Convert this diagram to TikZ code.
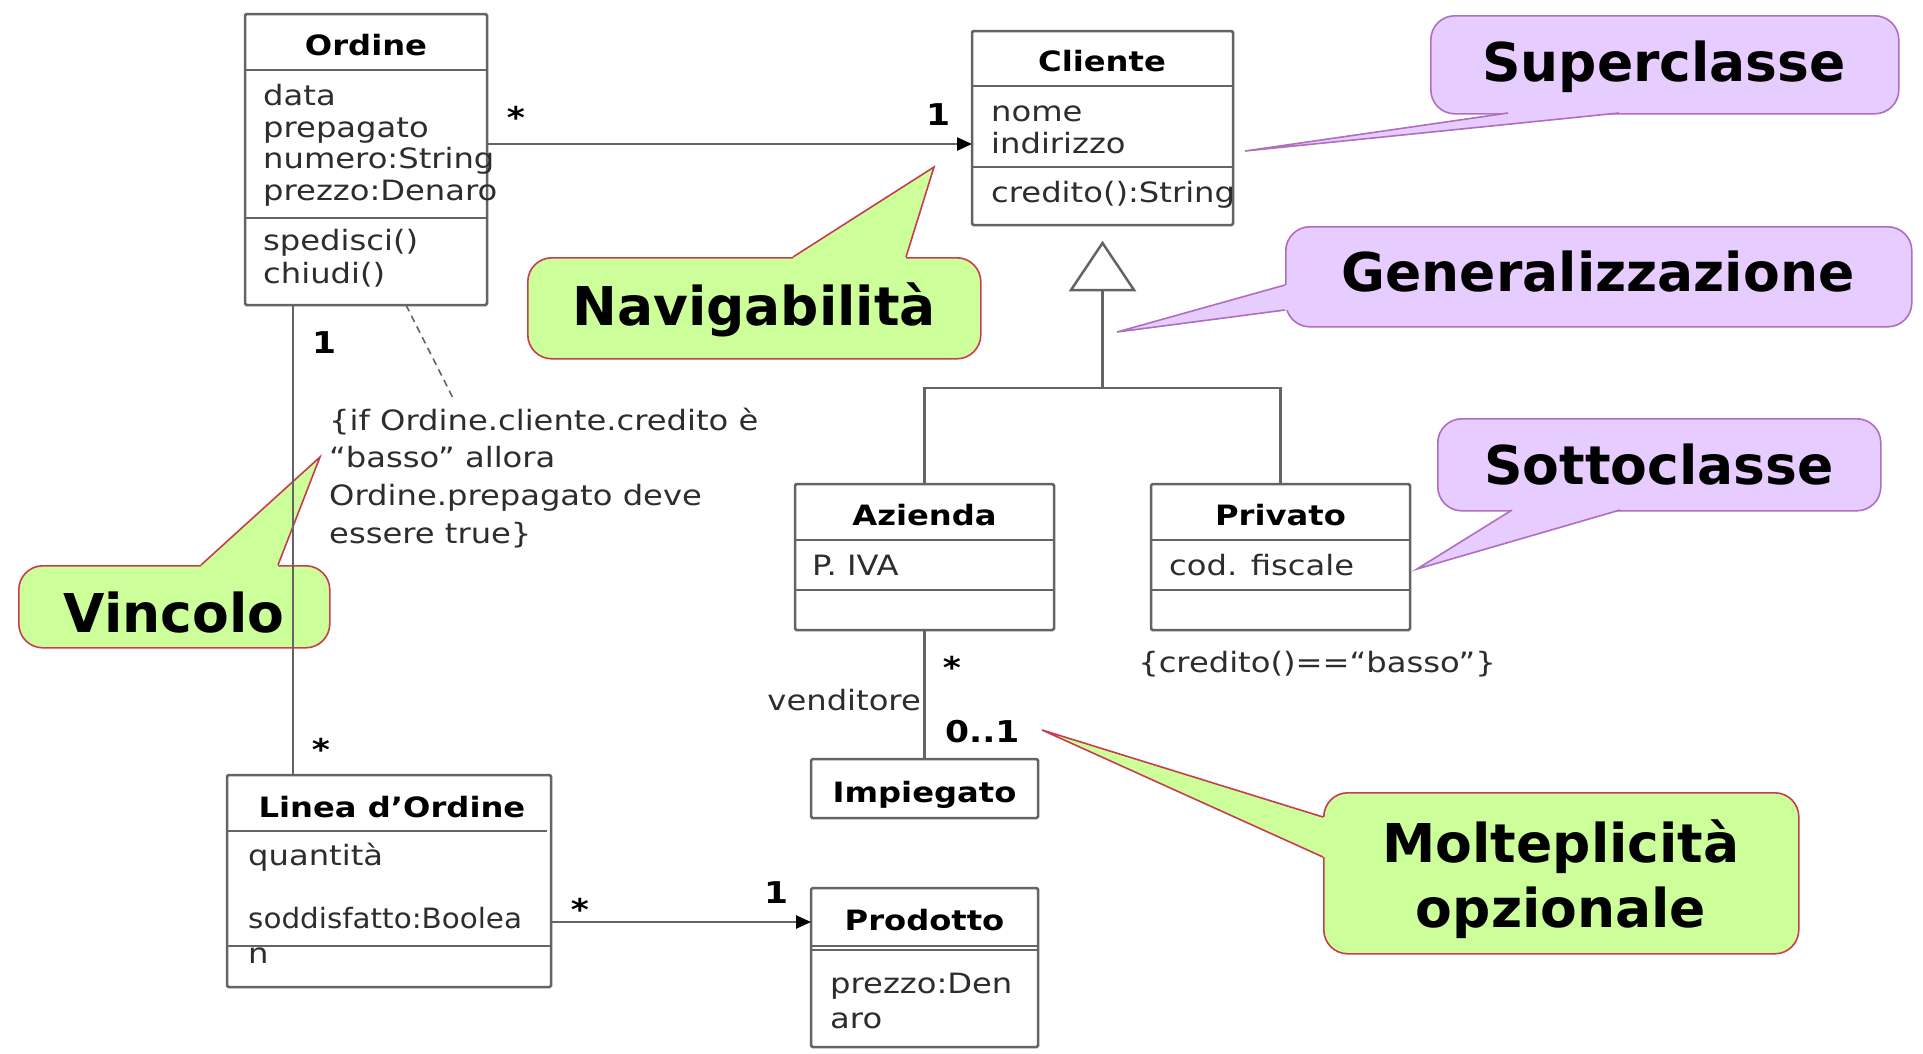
\documentclass[tikz,border=0pt]{standalone}
\usepackage{fontspec}
\usetikzlibrary{arrows.meta,calc}

% fonts
\newfontfamily\umlf{DejaVu Sans}[FakeStretch=1.15]
\newfontfamily\umlnarrowf{DejaVu Sans}[FakeStretch=1.05]
\newfontfamily\callf{DejaVu Sans}
\newcommand\attrfont{\umlf\fontsize{28}{32}\selectfont}
\newcommand\attrnarrowfont{\umlnarrowf\fontsize{28}{32}\selectfont}
\newcommand\titlefont{\umlf\bfseries\fontsize{28}{32}\selectfont}
\newcommand\multfont{\umlf\bfseries\fontsize{30}{34}\selectfont}
\newcommand\callfont{\callf\bfseries\fontsize{53.5}{65}\selectfont}

% colours
\definecolor{linegray}{RGB}{100,100,100}
\definecolor{textblack}{RGB}{45,45,45}
\definecolor{callgreen}{RGB}{204,255,153}
\definecolor{greenedge}{RGB}{200,60,80}
\definecolor{callpurple}{RGB}{230,204,255}
\definecolor{purpleedge}{RGB}{175,110,190}

\tikzset{
  umlbox/.style={draw=linegray, line width=2.5pt, fill=white, anchor=north west,
    inner sep=0pt, outer sep=0pt, rounded corners=1.5pt},
  rule/.style={draw=linegray, line width=2.5pt},
  assoc/.style={rule, -{Triangle[length=15pt,width=13pt,color=black]}},
  note/.style={draw=linegray, line width=1.6pt, dash pattern=on 7pt off 5pt},
  attr/.style={anchor=base west, inner sep=0pt, font=\attrfont, text=textblack},
  ctitle/.style={anchor=base, inner sep=0pt, font=\titlefont, text=black},
  mult/.style={anchor=base, inner sep=0pt, font=\multfont, text=black},
  callbody/.style={anchor=north west, rounded corners=24pt, line width=1.6pt, inner sep=0pt},
  greenbody/.style={callbody, fill=callgreen, draw=greenedge},
  purplebody/.style={callbody, fill=callpurple, draw=purpleedge},
  greentail/.style={draw=greenedge, line width=1.6pt},
  purpletail/.style={draw=purpleedge, line width=1.6pt},
  calltext/.style={anchor=base, inner sep=0pt, font=\callfont, text=black},
}

\begin{document}
\begin{tikzpicture}[x=1pt,y=-1pt]
\useasboundingbox[fill=white] (0,0) rectangle (1923,1053);

% ---------------- callouts ----------------
% Superclasse
\node[purplebody, minimum width=468pt, minimum height=98pt] (supbody) at (1430,15) {};
\coordinate (suptip) at (1245,151);
\coordinate (supb1) at (1508,113);
\coordinate (supb2) at (1619,113);
\fill[callpurple] (suptip) -- (supb1) -- ($(supb1)+(0,-4)$) -- ($(supb2)+(0,-4)$) -- (supb2) -- cycle;
\draw[purpletail] (supb1) -- (suptip) -- (supb2);
\node[calltext] (suptext) at (1664,81) {Superclasse};

% Generalizzazione
\node[purplebody, minimum width=626pt, minimum height=100pt] (genbody) at (1285,226) {};
\coordinate (gentip) at (1117,332);
\coordinate (genb1) at (1285,285);
\coordinate (genb2) at (1285,310);
\fill[callpurple] (gentip) -- (genb1) -- ($(genb1)+(4,0)$) -- ($(genb2)+(4,0)$) -- (genb2) -- cycle;
\draw[purpletail] (genb1) -- (gentip) -- (genb2);
\node[calltext] (gentext) at (1598,291) {Generalizzazione};

% Sottoclasse
\node[purplebody, minimum width=443pt, minimum height=92pt] (sotbody) at (1437,418) {};
\coordinate (sottip) at (1417,569);
\coordinate (sotb1) at (1512,510);
\coordinate (sotb2) at (1620,510);
\fill[callpurple] (sottip) -- (sotb1) -- ($(sotb1)+(0,-4)$) -- ($(sotb2)+(0,-4)$) -- (sotb2) -- cycle;
\draw[purpletail] (sotb1) -- (sottip) -- (sotb2);
\node[calltext] (sottext) at (1659,484) {Sottoclasse};

% Navigabilita
\node[greenbody, minimum width=453pt, minimum height=101pt] (navbody) at (527,257) {};
\coordinate (navtip) at (934,167);
\coordinate (navb1) at (793,257);
\coordinate (navb2) at (906,257);
\fill[callgreen] (navtip) -- (navb1) -- ($(navb1)+(0,4)$) -- ($(navb2)+(0,4)$) -- (navb2) -- cycle;
\draw[greentail] (navb1) -- (navtip) -- (navb2);
\node[calltext] (navtext) at (754,325) {Navigabilità};

% Vincolo
\node[greenbody, minimum width=311pt, minimum height=82pt] (vinbody) at (18,565) {};
\coordinate (vintip) at (320,457);
\coordinate (vinb1) at (201,565);
\coordinate (vinb2) at (278,565);
\fill[callgreen] (vintip) -- (vinb1) -- ($(vinb1)+(0,4)$) -- ($(vinb2)+(0,4)$) -- (vinb2) -- cycle;
\draw[greentail] (vinb1) -- (vintip) -- (vinb2);
\node[calltext] (vintext) at (174,632) {Vincolo};

% Molteplicita opzionale
\node[greenbody, minimum width=475pt, minimum height=161pt] (molbody) at (1323,792) {};
\coordinate (moltip) at (1042,730);
\coordinate (molb1) at (1323,817);
\coordinate (molb2) at (1323,857);
\fill[callgreen] (moltip) -- (molb1) -- ($(molb1)+(4,0)$) -- ($(molb2)+(4,0)$) -- (molb2) -- cycle;
\draw[greentail] (molb1) -- (moltip) -- (molb2);
\node[calltext] (moltext1) at (1561,862) {Molteplicità};
\node[calltext] (moltext2) at (1561,927) {opzionale};

% ---------------- classes ----------------
% Ordine
\node[umlbox, minimum width=242pt, minimum height=291pt] (ordine) at (245,14) {};
\draw[rule] ([yshift=-56pt]ordine.north west) -- ([yshift=-56pt]ordine.north east);
\draw[rule] ([yshift=-204pt]ordine.north west) -- ([yshift=-204pt]ordine.north east);
\node[ctitle] (ordinet) at (366,55) {Ordine};
\node[attr] (ord1) at (263,105) {data};
\node[attr] (ord2) at (263,137) {prepagato};
\node[attr] (ord3) at (263,168) {numero:String};
\node[attr] (ord4) at (263,200) {prezzo:Denaro};
\node[attr] (ord5) at (263,250) {spedisci()};
\node[attr] (ord6) at (263,283) {chiudi()};

% Cliente
\node[umlbox, minimum width=261pt, minimum height=194pt] (cliente) at (972,31) {};
\draw[rule] ([yshift=-55pt]cliente.north west) -- ([yshift=-55pt]cliente.north east);
\draw[rule] ([yshift=-136pt]cliente.north west) -- ([yshift=-136pt]cliente.north east);
\node[ctitle] (clientet) at (1102,71) {Cliente};
\node[attr] (cli1) at (991,121) {nome};
\node[attr] (cli2) at (991,153) {indirizzo};
\node[attr] (cli3) at (991,202) {credito():String};

% Azienda
\node[umlbox, minimum width=259pt, minimum height=146pt] (azienda) at (795,484) {};
\draw[rule] ([yshift=-56pt]azienda.north west) -- ([yshift=-56pt]azienda.north east);
\draw[rule] ([yshift=-106pt]azienda.north west) -- ([yshift=-106pt]azienda.north east);
\node[ctitle] (aziendat) at (924.5,525) {Azienda};
\node[attr] (azi1) at (812,575) {P. IVA};

% Privato
\node[umlbox, minimum width=259pt, minimum height=146pt] (privato) at (1151,484) {};
\draw[rule] ([yshift=-56pt]privato.north west) -- ([yshift=-56pt]privato.north east);
\draw[rule] ([yshift=-106pt]privato.north west) -- ([yshift=-106pt]privato.north east);
\node[ctitle] (privatot) at (1280.5,525) {Privato};
\node[attr] (pri1) at (1169,575) {cod. fiscale};
\node[anchor=base, inner sep=0pt, font=\attrfont, text=textblack] (pricons) at (1317,672)
  {\{credito()==“basso”\}};

% Impiegato
\node[umlbox, minimum width=227pt, minimum height=59pt] (impiegato) at (811,759) {};
\node[ctitle] (impiegatot) at (924.5,802) {Impiegato};

% Linea d'Ordine
\node[umlbox, minimum width=324pt, minimum height=212pt] (linea) at (227,775) {};
\draw[rule] ([yshift=-56pt]linea.north west) -- ([yshift=-56pt,xshift=-4pt]linea.north east);
\draw[rule] ([yshift=-171pt]linea.north west) -- ([yshift=-171pt]linea.north east);
\node[ctitle] (lineat) at (392,817) {Linea d’Ordine};
\node[attr] (lin1) at (248,865) {quantità};
\node[attr, font=\attrnarrowfont] (lin2) at (248,928) {soddisfatto:Boolea};
\node[attr] (lin3) at (248,963) {n};

% Prodotto
\node[umlbox, minimum width=227pt, minimum height=159pt] (prodotto) at (811,888) {};
\draw[rule] ([yshift=-58pt]prodotto.north west) -- ([yshift=-58pt]prodotto.north east);
\draw[rule] ([yshift=-62pt]prodotto.north west) -- ([yshift=-62pt]prodotto.north east);
\node[ctitle] (prodottot) at (924.5,930) {Prodotto};
\node[attr] (pro1) at (830,993) {prezzo:Den};
\node[attr] (pro2) at (830,1028) {aro};

% ---------------- connectors ----------------
% Ordine -> Cliente
\draw[assoc] ([yshift=-130pt]ordine.north east) coordinate (oc) -- (oc -| cliente.west);
\node[mult] (m1) at (516,128) {*};
\node[mult] (m2) at (938,125) {1};

% generalisation
\coordinate (genapex) at ($(cliente.south)+(0,18)$);
\coordinate (genbase) at ($(genapex)+(0,47)$);
\coordinate (genbar) at ($(genapex)+(0,145)$);
\draw[rule, line join=miter] (genapex) -- ($(genbase)+(-31.5,0)$) -- ($(genbase)+(31.5,0)$) -- cycle;
\draw[rule] (genbase) -- (genbar);
\draw[rule] (azienda.north) |- (genbar) -| (privato.north);

% Azienda -- Impiegato
\draw[rule] (azienda.south) -- (impiegato.north);
\node[mult] (m3) at (952,678) {*};
\node[anchor=base east, inner sep=0pt, font=\attrfont, text=textblack] (vend) at (921,710) {venditore};
\node[mult, anchor=base west] (m4) at (945,742) {0..1};

% Ordine -- Linea d'Ordine
\draw[rule] ([xshift=48pt]ordine.south west) coordinate (ol) -- (ol |- linea.north);
\node[mult] (m5) at (324,353) {1};
\node[mult] (m6) at (321,760) {*};

% Linea d'Ordine -> Prodotto
\draw[assoc] ([yshift=-147pt]linea.north east) coordinate (lp) -- (lp -| prodotto.west);
\node[mult] (m7) at (580,920) {*};
\node[mult] (m8) at (776,903) {1};

% constraint note
\node[attr] (c1) at (329,430) {\{if Ordine.cliente.credito è};
\node[attr] (c2) at (329,467) {“basso” allora};
\node[attr] (c3) at (329,505) {Ordine.prepagato deve};
\node[attr] (c4) at (329,543) {essere true\}};
\coordinate (noteend) at (454,400);
\draw[note] ([xshift=40pt]ordine.south) -- (noteend);

\end{tikzpicture}
\end{document}
